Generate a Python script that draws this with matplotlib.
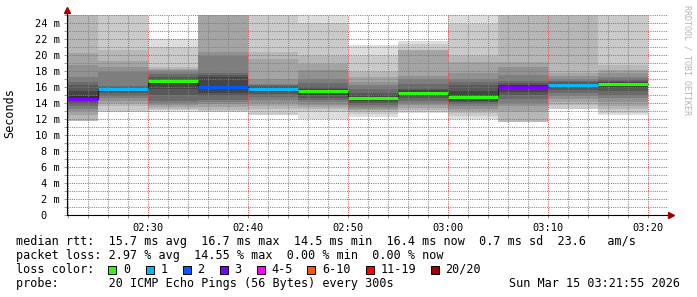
import matplotlib
matplotlib.use("Agg")
import matplotlib.pyplot as plt
import matplotlib.ticker as mticker
from matplotlib.patches import Rectangle

W, H, DPI = 697, 297, 100

# one 5-minute step per entry (value covers the 5 minutes before the stamp)
sample_times = ["02:25", "02:30", "02:35", "02:40", "02:45", "02:50",
                "02:55", "03:00", "03:05", "03:10", "03:15", "03:20"]
medians = [14.5, 15.7, 16.7, 16.0, 15.8, 15.5, 14.6, 15.3, 14.8, 16.0, 16.2, 16.4]
losses = [3, 1, 0, 2, 1, 0, 0, 0, 0, 3, 1, 0]

# 20 sorted pings per step (ms), lost pings pushed to both ends as None
pings = [
    [None, 11.5, 11.8, 12.5, 13.0, 13.3, 13.6, 13.9, 14.2, 14.5, 14.9, 15.5, 16.2, 16.6, 17.3, 18.8, 20.2, 26.0, None, None],
    [12.5, 12.9, 13.6, 14.0, 14.3, 14.6, 14.9, 15.2, 15.4, 15.7, 15.8, 15.9, 16.0, 16.1, 17.9, 18.5, 19.3, 20.6, 26.0, None],
    [12.9, 13.1, 13.3, 13.5, 13.8, 14.0, 14.3, 15.0, 15.8, 16.4, 16.7, 16.9, 17.3, 17.6, 17.9, 18.1, 18.3, 18.5, 21.0, 22.0],
    [None, 12.9, 13.1, 13.5, 13.9, 14.1, 14.4, 14.9, 15.3, 15.7, 16.0, 17.2, 17.5, 17.8, 19.9, 20.4, 26.0, 26.0, 26.0, None],
    [12.3, 12.5, 13.3, 13.6, 14.0, 14.4, 14.7, 15.1, 15.4, 15.8, 15.9, 16.0, 16.1, 16.2, 16.4, 17.05, 19.5, 20.4, 26.0, None],
    [12.0, 12.9, 13.2, 13.5, 13.8, 14.1, 14.4, 14.6, 15.0, 15.3, 15.5, 15.7, 16.0, 16.5, 17.0, 18.1, 18.9, 19.9, 24.0, 26.0],
    [12.25, 12.6, 12.9, 13.1, 13.3, 13.5, 13.8, 14.0, 14.2, 14.4, 14.6, 15.0, 15.3, 15.8, 16.2, 16.6, 17.3, 17.9, 19.9, 21.2],
    [12.7, 12.9, 13.1, 13.4, 13.7, 14.0, 14.3, 14.6, 14.9, 15.1, 15.3, 15.6, 15.8, 16.4, 17.0, 17.4, 20.6, 20.65, 21.4, 21.8],
    [12.0, 12.4, 12.7, 13.0, 13.3, 13.6, 13.9, 14.1, 14.3, 14.6, 14.8, 15.5, 16.2, 16.6, 17.05, 17.7, 19.1, 19.9, 23.9, 26.0],
    [None, 11.5, 11.6, 12.9, 13.6, 14.0, 14.5, 15.0, 15.4, 16.0, 16.2, 16.3, 16.5, 16.8, 17.5, 18.5, 19.1, 26.0, None, None],
    [13.0, 13.3, 13.7, 14.1, 14.5, 14.9, 15.2, 15.6, 15.9, 16.2, 16.3, 16.4, 16.6, 16.8, 17.0, 17.4, 17.7, 26.0, 26.0, None],
    [12.5, 12.8, 13.2, 13.6, 14.1, 14.6, 15.0, 15.5, 15.9, 16.2, 16.4, 16.6, 16.8, 17.0, 17.3, 17.7, 18.1, 18.7, 26.0, 26.0],
]

loss_labels = ["0", "1", "2", "3", "4-5", "6-10", "11-19", "20/20"]
loss_colors = ["#26ff00", "#00b8ff", "#0059ff", "#7e00ff", "#ff00ff", "#ff5500", "#ff0000", "#a00000"]
loss_upper = [0, 1, 2, 3, 5, 10, 19, 20]

x_ticks = ["02:30", "02:40", "02:50", "03:00", "03:10", "03:20"]
t_start, t_end = "02:21:55", "03:21:55"
y_max = 25

rtt_line = "median rtt:  15.7 ms avg  16.7 ms max  14.5 ms min  16.4 ms now  0.7 ms sd  23.6   am/s"
loss_line = "packet loss: 2.97 % avg  14.55 % max  0.00 % min  0.00 % now"
probe_line = "probe:       20 ICMP Echo Pings (56 Bytes) every 300s"
stamp = "Sun Mar 15 03:21:55 2026"


def to_min(s):
    p = [int(v) for v in s.split(":")]
    return p[0] * 60 + p[1] + (p[2] / 60 if len(p) > 2 else 0)


def loss_color(n):
    for up, c in zip(loss_upper, loss_colors):
        if n <= up:
            return c
    return loss_colors[-1]


plt.rcParams["font.family"] = "DejaVu Sans Mono"

fig = plt.figure(figsize=(W / DPI, H / DPI), dpi=DPI)
ax = fig.add_axes([67 / W, (H - 215) / H, 600 / W, 200 / H])

times = [to_min(t) for t in sample_times]

# smoke: band i spans ping i .. ping 21-i, darker toward the middle
for t, p in zip(times, pings):
    for ibot in range(1, 11):
        lo, hi = p[ibot - 1], p[20 - ibot]
        if lo is None or hi is None:
            continue
        g = int(190 / 10 * (10 - ibot)) + 50
        ax.bar(t - 5, min(hi, y_max) - lo, bottom=lo, width=5, align="edge",
               color="#%02x%02x%02x" % (g, g, g), linewidth=0, zorder=1)

# median: thin dark step + thick loss-coloured segments
ax.step([times[0] - 5] + times, [medians[0]] + medians, where="pre",
        color="#202020", lw=0.8, zorder=3)
ax.hlines(medians, [t - 5 for t in times], times,
          colors=[loss_color(n) for n in losses], lw=2.2, zorder=4, capstyle="butt")

ax.set_xlim(to_min(t_start), to_min(t_end))
ax.set_ylim(0, y_max)

ax.set_xticks([to_min(t) for t in x_ticks])
ax.set_xticklabels(x_ticks)
ax.xaxis.set_minor_locator(mticker.MultipleLocator(2))
ax.set_yticks(range(0, 25, 2))
ax.set_yticklabels(["0  "] + ["%d m" % v for v in range(2, 25, 2)])
ax.yaxis.set_minor_locator(mticker.MultipleLocator(1))

ax.grid(which="major", color=(0.85, 0.3, 0.3, 0.35), lw=0.72, linestyle=(0, (1, 1.2)), zorder=2)
ax.grid(which="minor", color=(0.5, 0.5, 0.5, 0.3), lw=0.72, linestyle=(0, (1, 1.2)), zorder=2)
ax.set_axisbelow(False)

ax.tick_params(which="both", length=2, width=0.7, color="#999999", labelsize=7.5, pad=3)
ax.tick_params(axis="x", pad=4)
for s in ax.spines.values():
    s.set_visible(False)

# axes with arrow heads
ax.plot([0, 0], [0, 1.02], transform=ax.transAxes, color="black", lw=0.8, clip_on=False, zorder=5)
ax.plot([0, 1.005], [0, 0], transform=ax.transAxes, color="black", lw=0.8, clip_on=False, zorder=5)
ax.plot([0], [1.024], transform=ax.transAxes, marker="^", ms=4, color="#a00000", clip_on=False, zorder=6)
ax.plot([1.006], [0], transform=ax.transAxes, marker=">", ms=4, color="#a00000", clip_on=False, zorder=6)

ax.set_ylabel("Seconds", fontsize=8.5)
ax.yaxis.set_label_coords((16.5 - 67) / 600, 0.51)


def ftext(x, y, s, **kw):
    fig.text(x / W, 1 - y / H, s, va="center", fontsize=8.5, **kw)


ftext(16, 241.5, rtt_line)
ftext(16, 255.5, loss_line)
ftext(16, 269.5, "loss color:")
box_x = [108, 145.5, 182.5, 219.5, 256.5, 307, 365.5, 430.5]
for bx, lab, col in zip(box_x, loss_labels, loss_colors):
    fig.add_artist(Rectangle((bx / W, 1 - 273.5 / H), 8 / W, 8 / H, transform=fig.transFigure,
                             facecolor=col, edgecolor="black", lw=0.7))
    ftext(bx + 15, 269.5, lab)
ftext(16, 283.5, probe_line)
ftext(680, 283.5, stamp, ha="right")

fig.text(687 / W, 1 - 5 / H, "RRDTOOL / TOBI OETIKER", rotation=270, va="top", ha="center",
         fontsize=6, color="#b4b4b4")

fig.savefig("out.png", dpi=DPI)
